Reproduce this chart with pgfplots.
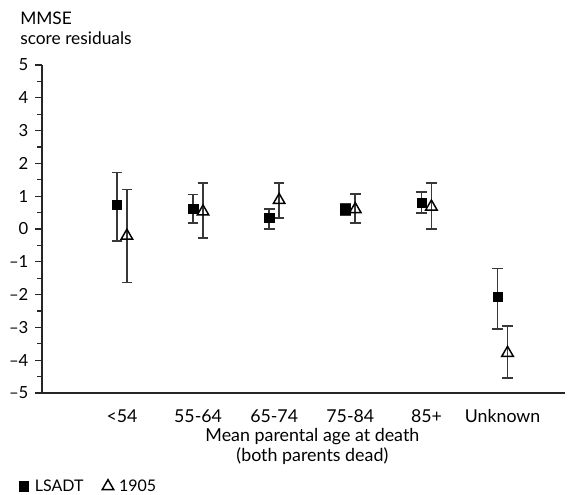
\documentclass[border=0pt]{standalone}
\usepackage{pgfplots}
\pgfplotsset{compat=1.18}
\usepackage{pgfplotstable}
\usepackage{fontspec}
\setmainfont{Lato}
\pgfplotstableread{
x y ep em
-0.065 0.73 0.99 1.10
0.935 0.62 0.43 0.44
1.935 0.34 0.27 0.34
2.935 0.60 0.17 0.18
3.935 0.80 0.33 0.32
4.935 -2.07 0.87 0.98
}\lsadt
\pgfplotstableread{
x y ep em
0.065 -0.21 1.41 1.42
1.065 0.53 0.88 0.80
2.065 0.88 0.53 0.55
3.065 0.60 0.47 0.42
4.065 0.68 0.72 0.68
5.065 -3.78 0.83 0.76
}\nineteen
\definecolor{bar}{gray}{0.22}
\begin{document}
\begin{tikzpicture}
\path[use as bounding box] (-31.5pt,-75.75pt) rectangle (395.25pt,294.75pt);
\begin{axis}[
  at={(0pt,0pt)}, anchor=south west,
  scale only axis,
  width=392.25pt, height=246pt,
  xmin=-1.05, xmax=5.82,
  ymin=-5, ymax=5,
  axis x line=bottom, axis y line=left,
  axis line style={-, line width=1.1pt, black!85},
  xtick={0,1,2,3,4,5},
  xticklabels={<54,55-64,65-74,75-84,85+,Unknown},
  xtick style={draw=none},
  ytick={-5,...,5},
  yticklabels={--5,--4,--3,--2,--1,0,1,2,3,4,5},
  minor y tick num=1,
  tick align=outside,
  major tick length=5pt, minor tick length=3.5pt,
  ytick style={line width=1pt, black!85},
  yticklabel style={font=\fontsize{12.5}{14}\selectfont, inner sep=0pt, xshift=-5pt},
  xticklabel style={font=\fontsize{13.3}{15}\selectfont, anchor=base, inner sep=0pt, yshift=-17pt},
  xlabel={Mean parental age at death\\(both parents dead)},
  xlabel style={at={(rel axis cs:0.517,0)}, anchor=north, align=center, inner sep=0pt,
    font=\fontsize{13.4}{15}\selectfont, yshift=-26.5pt},
  legend style={at={(rel axis cs:0,0)}, anchor=west, xshift=-17.5pt, yshift=-70pt,
    draw=none, fill=none, inner sep=0pt,
    legend columns=2, font=\fontsize{12}{13}\selectfont,
    /tikz/every even column/.append style={column sep=12pt}},
  legend image code/.code={\draw[#1] plot coordinates {(0.1cm,0cm)};},
  clip=false,
]
\addplot[only marks, mark=square*, mark size=3.5pt, black,
  error bars/.cd, y dir=both, y explicit,
  error bar style={line width=1.2pt, bar}, error mark options={rotate=90, mark size=4pt, line width=1.2pt, bar}]
  table[x=x, y=y, y error plus=ep, y error minus=em]{\lsadt};
\addlegendentry{\hspace{3pt}LSADT}
\addplot[only marks, mark=triangle, mark size=5pt, black, mark options={fill=white, line width=1.1pt},
  error bars/.cd, y dir=both, y explicit,
  error bar style={line width=1.2pt, bar}, error mark options={rotate=90, mark size=4pt, line width=1.2pt, bar}]
  table[x=x, y=y, y error plus=ep, y error minus=em]{\nineteen};
\addlegendentry{\hspace{2pt}1905}
\node[anchor=base west, font=\fontsize{13}{15}\selectfont, inner sep=0pt, xshift=-16.5pt, yshift=30pt]
  at (rel axis cs:0,1) {MMSE};
\node[anchor=base west, font=\fontsize{13}{15}\selectfont, inner sep=0pt, xshift=-16.5pt, yshift=15pt]
  at (rel axis cs:0,1) {score residuals};
\end{axis}
\end{tikzpicture}
\end{document}
